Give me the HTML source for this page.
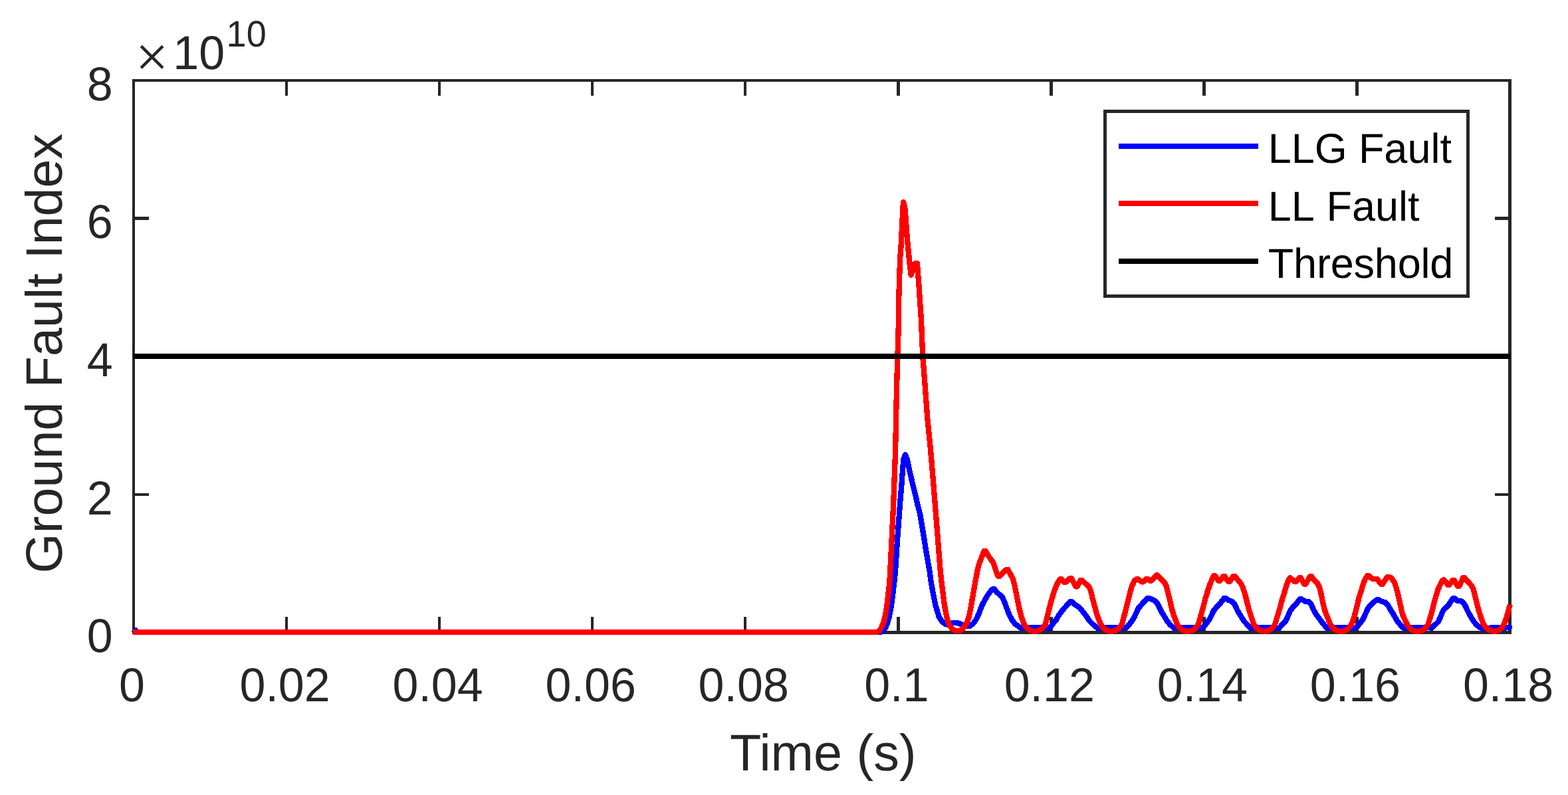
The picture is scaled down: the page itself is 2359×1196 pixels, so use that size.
<!DOCTYPE html>
<html lang="en">
<head>
<meta charset="utf-8">
<title>Ground Fault Index</title>
<style>
html,body{margin:0;padding:0;background:#fff;}
body{width:2359px;height:1196px;overflow:hidden;}
svg{display:block;}
text{font-family:"Liberation Sans",sans-serif;fill:#262626;text-rendering:geometricPrecision;}
.tk{font-size:70px;}
.lb{font-size:77.3px;}
.lg{font-size:63px;fill:#000;}
.sp{font-size:54px;}
.tm{font-family:"Liberation Serif","DejaVu Serif",serif;font-size:88px;}
</style>
</head>
<body>
<svg width="2359" height="1196" viewBox="0 0 2359 1196" role="img" aria-label="Ground Fault Index versus Time">
<rect x="0" y="0" width="2359" height="1196" fill="#ffffff"/>

<g id="axes" fill="#262626" shape-rendering="crispEdges">
<rect x="199" y="119" width="4" height="835"/>
<rect x="199" y="119" width="2075" height="4"/>
<rect x="2269" y="119" width="5" height="835"/>
<rect x="199" y="949" width="2075" height="5"/>
<rect x="429" y="928" width="4" height="22"/>
<rect x="429" y="122" width="4" height="22"/>
<rect x="659" y="928" width="4" height="22"/>
<rect x="659" y="122" width="4" height="22"/>
<rect x="889" y="928" width="4" height="22"/>
<rect x="889" y="122" width="4" height="22"/>
<rect x="1119" y="928" width="4" height="22"/>
<rect x="1119" y="122" width="4" height="22"/>
<rect x="1349" y="928" width="5" height="22"/>
<rect x="1349" y="122" width="5" height="22"/>
<rect x="1579" y="928" width="5" height="22"/>
<rect x="1579" y="122" width="5" height="22"/>
<rect x="1809" y="928" width="5" height="22"/>
<rect x="1809" y="122" width="5" height="22"/>
<rect x="2039" y="928" width="5" height="22"/>
<rect x="2039" y="122" width="5" height="22"/>
<rect x="202" y="326" width="22" height="5"/>
<rect x="2249" y="326" width="21" height="5"/>
<rect x="202" y="534" width="22" height="5"/>
<rect x="2249" y="534" width="21" height="5"/>
<rect x="202" y="742" width="22" height="4"/>
<rect x="2249" y="742" width="21" height="4"/>
</g>
<g id="curves" fill="none" stroke-width="8.3" stroke-linejoin="round" stroke-linecap="butt" shape-rendering="crispEdges">
<path fill="#0000ff" stroke="none" d="M198,949 h2.2 v-2 l2.3,-3 h2.5 l4,3 v2 h-9 v2 h-2 Z"/>
<path id="llg" stroke="#0000ff" stroke-linecap="round" d="M1322.0,951.0 L1324.4,951.0 L1328.7,949.0 L1332.2,944.8 L1335.3,936.3 L1337.8,927.8 L1341.0,910.9 L1343.2,893.9 L1345.2,877.0 L1347.0,860.0 L1350.2,810.5 L1353.9,760.0 L1356.6,726.9 L1358.4,701.8 L1359.5,690.5 L1361.9,684.2 L1364.9,691.0 L1366.3,698.0 L1368.8,710.2 L1372.8,726.9 L1377.0,743.6 L1380.6,760.0 L1383.9,772.0 L1387.6,794.0 L1390.4,811.0 L1393.1,828.0 L1396.0,845.0 L1398.7,860.0 L1400.9,877.0 L1404.1,893.9 L1407.5,910.9 L1412.6,927.8 L1417.2,934.6 L1421.9,938.8 L1426.2,939.7 L1431.2,937.6 L1437.2,937.1 L1442.3,937.6 L1447.3,939.7 L1454.1,941.4 L1459.2,941.6 L1463.8,938.5 L1468.5,932.1 L1472.7,923.2 L1477.4,910.5 L1481.6,902.9 L1485.9,895.3 L1490.5,889.2 L1493.8,886.1 L1495.8,886.1 L1499.8,891.0 L1507.9,898.2 L1511.3,905.9 L1514.7,915.2 L1518.1,924.1 L1522.7,933.0 L1527.0,938.5 L1535.7,944.9 L1537.7,944.9 L1546.7,944.4 L1566.7,944.4 L1576.7,945.2 L1578.7,945.2 L1584.6,937.7 L1588.9,932.6 L1593.1,925.4 L1599.0,917.3 L1604.1,911.8 L1610.3,905.0 L1612.3,905.0 L1618.5,910.5 L1624.1,913.9 L1628.7,919.8 L1633.8,926.2 L1639.3,934.3 L1644.8,939.8 L1650.9,944.9 L1652.9,944.9 L1661.9,944.4 L1681.9,944.4 L1691.9,945.2 L1693.9,945.2 L1698.5,940.0 L1703.6,933.3 L1707.0,927.3 L1710.4,920.1 L1712.5,915.0 L1716.3,910.8 L1722.7,903.6 L1726.3,899.9 L1728.3,899.9 L1732.4,901.5 L1737.5,903.6 L1741.3,907.8 L1744.3,914.2 L1747.7,921.0 L1751.5,926.9 L1755.7,934.1 L1759.5,938.8 L1766.0,944.9 L1768.0,944.9 L1777.0,944.4 L1797.0,944.4 L1807.0,945.2 L1809.0,945.2 L1814.7,938.3 L1819.7,931.6 L1823.1,924.8 L1825.7,918.8 L1829.9,913.8 L1835.0,908.7 L1841.7,899.9 L1843.7,899.9 L1848.0,902.7 L1853.5,904.9 L1857.7,909.5 L1860.7,916.3 L1864.1,922.7 L1867.9,928.6 L1871.7,934.5 L1876.0,939.2 L1881.2,944.9 L1883.2,944.9 L1892.2,944.4 L1912.2,944.4 L1922.2,945.2 L1924.2,945.2 L1928.5,940.0 L1934.5,933.7 L1937.8,926.5 L1940.8,919.3 L1945.9,912.5 L1951.4,907.0 L1955.7,901.0 L1957.7,901.0 L1963.3,904.6 L1968.8,904.9 L1972.6,909.1 L1976.0,917.2 L1979.8,923.9 L1984.0,929.4 L1988.3,935.4 L1991.7,939.6 L1996.4,944.9 L1998.4,944.9 L2007.4,944.4 L2027.4,944.4 L2037.4,945.2 L2039.4,945.2 L2044.1,940.0 L2050.4,932.0 L2054.3,923.5 L2057.7,915.9 L2061.0,911.2 L2067.0,905.7 L2071.5,902.1 L2073.5,902.1 L2078.8,904.9 L2083.9,906.1 L2088.2,910.8 L2091.6,916.7 L2095.0,921.8 L2098.3,927.7 L2101.7,933.7 L2106.0,939.2 L2111.6,944.9 L2113.6,944.9 L2122.6,944.4 L2142.6,944.4 L2152.7,943.9 L2153.6,945.2 L2158.7,940.1 L2163.7,935.5 L2167.1,928.2 L2170.5,919.8 L2173.5,915.5 L2179.0,910.9 L2182.8,904.9 L2186.1,900.0 L2188.1,900.0 L2192.6,903.7 L2199.3,904.5 L2203.6,909.6 L2207.0,916.8 L2210.4,923.6 L2213.8,929.5 L2217.6,935.5 L2221.4,940.1 L2226.5,943.9 L2230.6,945.6 L2232.6,945.6 L2246.7,944.1 L2248.7,944.1 L2261.9,944.6 L2263.9,944.6 L2271.3,943.4"/>
<rect x="200" y="947" width="1117" height="8" fill="#ff0000" stroke="none" shape-rendering="crispEdges"/>
<path id="ll" stroke="#ff0000" d="M1316.0,951.0 L1318.9,951.0 L1322.7,949.0 L1325.7,944.8 L1329.3,936.3 L1331.5,927.8 L1334.4,910.9 L1336.3,893.9 L1338.2,877.0 L1339.2,860.0 L1344.1,760.0 L1347.1,679.0 L1349.1,580.3 L1352.1,480.0 L1352.1,453.6 L1353.1,421.0 L1354.1,389.2 L1355.1,376.8 L1356.1,361.1 L1357.1,338.9 L1358.1,319.3 L1359.0,303.9 L1361.1,310.9 L1362.1,320.9 L1363.2,335.2 L1364.0,347.7 L1365.0,361.1 L1366.2,373.0 L1367.2,382.5 L1368.2,393.0 L1369.1,401.8 L1370.1,409.3 L1370.6,413.8 L1377.1,396.2 L1379.9,396.2 L1380.9,409.3 L1381.9,421.0 L1382.9,435.2 L1383.9,451.9 L1384.9,465.3 L1385.9,480.0 L1388.2,535.2 L1391.7,580.3 L1395.4,630.5 L1399.4,670.0 L1402.9,710.2 L1406.9,760.0 L1410.9,810.0 L1414.8,860.0 L1416.7,877.0 L1418.8,893.9 L1421.0,910.9 L1424.2,927.8 L1426.7,936.3 L1429.5,942.2 L1432.9,946.5 L1437.2,948.6 L1440.6,949.0 L1444.4,948.6 L1448.2,946.1 L1451.6,941.8 L1454.9,936.3 L1457.7,927.8 L1461.1,910.9 L1464.0,893.9 L1467.0,877.0 L1470.2,860.0 L1472.5,850.0 L1477.3,837.0 L1480.6,828.9 L1482.6,828.9 L1488.0,837.8 L1494.3,846.5 L1499.4,862.0 L1501.8,866.9 L1503.8,866.9 L1506.9,863.9 L1511.7,858.6 L1514.5,856.9 L1516.5,856.9 L1519.3,862.4 L1523.6,870.0 L1526.6,881.0 L1529.7,897.0 L1533.1,913.9 L1536.7,928.3 L1540.8,939.3 L1545.2,945.3 L1550.3,948.7 L1555.7,949.8 L1557.7,949.8 L1563.1,948.7 L1568.2,945.3 L1572.6,939.3 L1575.7,927.5 L1578.9,913.9 L1582.5,901.0 L1585.9,889.5 L1589.3,881.0 L1592.4,875.0 L1595.1,871.0 L1597.1,871.0 L1601.4,876.0 L1603.4,876.0 L1609.9,870.0 L1611.9,870.0 L1618.4,882.5 L1620.4,882.5 L1625.6,873.0 L1627.6,873.0 L1635.1,879.8 L1638.5,882.7 L1641.3,889.9 L1643.4,899.3 L1646.9,912.1 L1650.3,924.8 L1656.0,939.3 L1660.4,945.3 L1665.5,948.7 L1670.9,949.8 L1672.9,949.8 L1678.3,948.7 L1683.4,945.3 L1687.8,939.3 L1691.7,924.8 L1695.1,912.1 L1697.7,901.0 L1700.2,890.9 L1703.2,881.1 L1706.6,873.9 L1710.0,871.1 L1712.0,871.1 L1717.8,875.4 L1719.8,875.4 L1724.6,870.7 L1726.6,870.7 L1730.1,873.6 L1732.1,873.6 L1739.5,865.4 L1741.5,865.4 L1746.0,870.5 L1752.3,876.9 L1754.9,882.4 L1757.0,890.9 L1759.5,901.0 L1762.1,912.1 L1765.5,924.8 L1771.1,939.3 L1775.5,945.3 L1780.6,948.7 L1786.0,949.8 L1788.0,949.8 L1793.4,948.7 L1798.5,945.3 L1802.9,939.3 L1807.0,924.8 L1810.4,912.1 L1813.8,899.3 L1817.2,888.3 L1820.6,878.2 L1823.6,871.4 L1826.2,866.0 L1828.2,866.0 L1833.2,873.7 L1835.2,873.7 L1840.4,867.0 L1842.4,867.0 L1847.8,875.0 L1849.8,875.0 L1855.5,867.0 L1857.5,867.0 L1861.5,871.4 L1867.1,878.2 L1870.0,884.1 L1873.4,895.1 L1876.6,907.8 L1879.9,920.5 L1886.3,939.3 L1890.7,945.3 L1895.8,948.7 L1901.2,949.8 L1903.2,949.8 L1908.6,948.7 L1913.7,945.3 L1918.1,939.3 L1925.1,916.3 L1928.5,903.6 L1931.9,892.6 L1934.9,882.4 L1937.8,873.9 L1940.8,869.0 L1947.7,875.0 L1949.7,875.0 L1954.9,869.0 L1956.9,869.0 L1962.3,878.8 L1964.3,878.8 L1970.8,867.0 L1972.8,867.0 L1976.8,872.6 L1982.4,878.2 L1985.3,884.1 L1987.9,895.1 L1990.4,907.8 L1993.8,920.5 L2001.5,939.3 L2005.9,945.3 L2011.0,948.7 L2016.4,949.8 L2018.4,949.8 L2023.8,948.7 L2028.9,945.3 L2033.3,939.3 L2038.2,924.8 L2041.5,912.1 L2044.9,897.7 L2048.3,887.5 L2051.3,877.3 L2054.3,870.5 L2057.1,866.0 L2059.1,866.0 L2064.9,870.9 L2071.6,870.9 L2077.8,878.8 L2079.8,878.8 L2087.2,868.0 L2089.2,868.0 L2093.3,869.3 L2097.5,875.6 L2100.0,882.4 L2102.2,890.0 L2104.7,900.6 L2107.2,912.1 L2110.2,924.8 L2116.7,939.3 L2121.1,945.3 L2126.2,948.7 L2131.6,949.8 L2133.6,949.8 L2139.0,948.7 L2144.1,945.3 L2148.5,939.3 L2153.1,924.4 L2156.5,910.9 L2159.9,898.2 L2163.3,887.1 L2166.3,880.3 L2169.3,874.4 L2172.0,872.0 L2178.4,879.9 L2180.4,879.9 L2185.5,872.9 L2187.5,872.9 L2193.3,881.9 L2195.3,881.9 L2201.3,869.1 L2203.3,869.1 L2207.8,874.4 L2212.9,879.9 L2216.3,885.4 L2218.8,895.2 L2221.4,905.8 L2224.4,917.2 L2227.7,928.2 L2231.1,937.6 L2235.0,943.5 L2239.2,947.3 L2246.7,949.7 L2248.7,949.7 L2254.5,948.6 L2259.5,944.4 L2263.4,937.6 L2266.7,928.2 L2269.3,918.9 L2271.8,909.6"/>
<rect id="thr" x="200" y="532" width="2072" height="8" fill="#000000" stroke="none" shape-rendering="crispEdges"/>
</g>
<g id="yticks">
<text class="tk" text-anchor="end" transform="translate(169.8,981.1) scale(1,1.025)">0</text>
<text class="tk" text-anchor="end" transform="translate(169.8,773.5) scale(1,1.025)">2</text>
<text class="tk" text-anchor="end" transform="translate(169.8,565.9) scale(1,1.025)">4</text>
<text class="tk" text-anchor="end" transform="translate(169.8,358.3) scale(1,1.025)">6</text>
<text class="tk" text-anchor="end" transform="translate(169.8,150.7) scale(1,1.025)">8</text>
</g>
<g id="xticks">
<text class="tk" text-anchor="middle" transform="translate(198.5,1054.9) scale(1,1.025)">0</text>
<text class="tk" text-anchor="middle" transform="translate(428.6,1054.9) scale(1,1.025)">0.02</text>
<text class="tk" text-anchor="middle" transform="translate(658.6,1054.9) scale(1,1.025)">0.04</text>
<text class="tk" text-anchor="middle" transform="translate(888.7,1054.9) scale(1,1.025)">0.06</text>
<text class="tk" text-anchor="middle" transform="translate(1118.7,1054.9) scale(1,1.025)">0.08</text>
<text class="tk" text-anchor="middle" transform="translate(1348.8,1054.9) scale(1,1.025)">0.1</text>
<text class="tk" text-anchor="middle" transform="translate(1578.8,1054.9) scale(1,1.025)">0.12</text>
<text class="tk" text-anchor="middle" transform="translate(1808.9,1054.9) scale(1,1.025)">0.14</text>
<text class="tk" text-anchor="middle" transform="translate(2038.9,1054.9) scale(1,1.025)">0.16</text>
<text class="tk" text-anchor="middle" transform="translate(2269.0,1054.9) scale(1,1.025)">0.18</text>
</g>
<g id="exponent">
<text class="tm" x="203.7" y="115.2">×</text>
<text class="tk" text-anchor="start" transform="translate(260.2,103.8) scale(1,1.025)">10</text>
<text class="sp" text-anchor="start" transform="translate(340.6,69.9) scale(1,1.025)">10</text>
</g>
<text id="xlabel" class="lb" text-anchor="middle" x="1238.3" y="1158.7">Time (s)</text>
<text id="ylabel" class="lb" text-anchor="middle" transform="translate(92.8,531.6) rotate(-90)">Ground Fault Index</text>
<g id="legend">
<rect x="1662.5" y="167.5" width="546" height="278" fill="#ffffff" stroke="#262626" stroke-width="5" shape-rendering="crispEdges"/>
<g shape-rendering="crispEdges">
<rect x="1683" y="216" width="210" height="8" fill="#0000ff"/>
<rect x="1683" y="302" width="210" height="8" fill="#ff0000"/>
<rect x="1683" y="389" width="210" height="8" fill="#000000"/>
</g>
<text class="lg" word-spacing="-0.5" letter-spacing="0" x="1907.8" y="245.2">LLG Fault</text>
<text class="lg" word-spacing="2.5" letter-spacing="0" x="1907.8" y="331.8">LL Fault</text>
<text class="lg" word-spacing="0" letter-spacing="-0.2" x="1907.8" y="418.2">Threshold</text>
</g>
</svg>
</body>
</html>
